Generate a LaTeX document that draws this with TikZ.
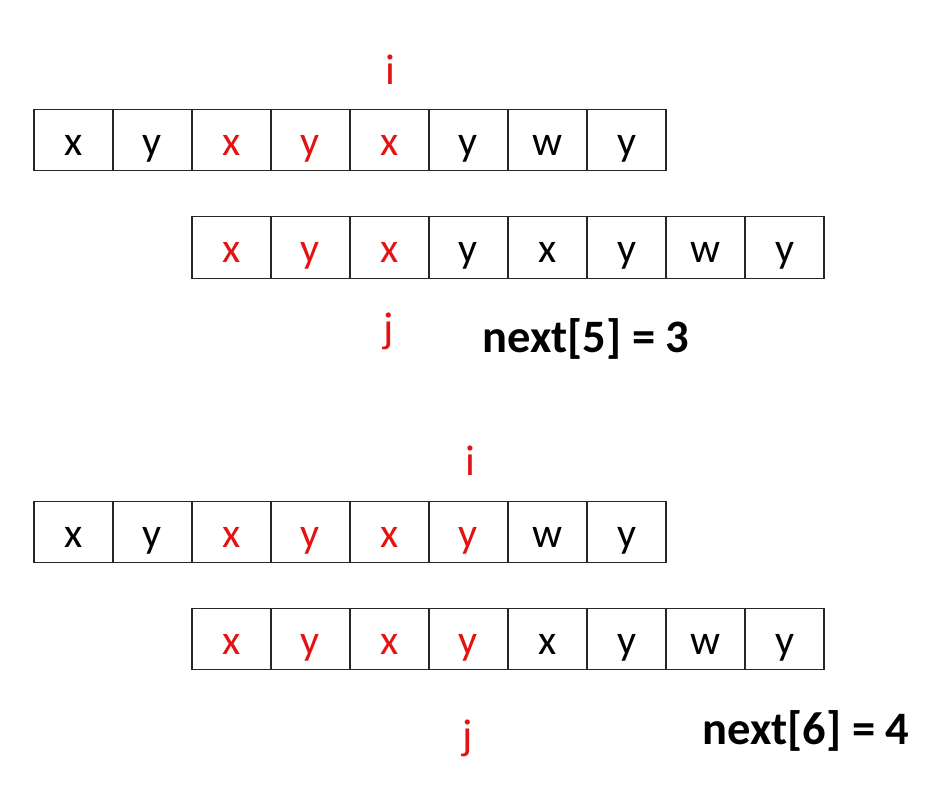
\documentclass[tikz,border=0pt]{standalone}
\usepackage{fontspec}
\setmainfont{Carlito}
\definecolor{hl}{RGB}{228,18,18}
\begin{document}
\begin{tikzpicture}[x=1pt,y=-1pt,
  cell/.style={draw=black!85,line width=1.2pt,minimum width=79pt,minimum height=61.5pt,
    inner sep=0pt,text height=30.5pt,text depth=0pt,font=\fontsize{42}{42}\selectfont},
  hot/.style={text=hl},
  ptr/.style={text=hl,anchor=base,inner sep=0pt,font=\fontsize{43}{43}\selectfont},
  res/.style={anchor=center,inner sep=0pt,font=\bfseries\fontsize{46.5}{46.5}\selectfont}]
\useasboundingbox (0,0) rectangle (940,786);
% top pair
\foreach \t [count=\k] in {x,y,x,y,x,y,w,y}{
  \pgfmathsetmacro{\cx}{34+79*(\k-0.5)}
  \ifnum\k>2 \ifnum\k<6 \node[cell,hot] (a\k) at (\cx,140) {\t};
  \else \node[cell] (a\k) at (\cx,140) {\t}; \fi
  \else \node[cell] (a\k) at (\cx,140) {\t}; \fi
}
\foreach \t [count=\k] in {x,y,x,y,x,y,w,y}{
  \pgfmathsetmacro{\cx}{192+79*(\k-0.5)}
  \ifnum\k<4 \node[cell,hot] (b\k) at (\cx,247.5) {\t};
  \else \node[cell] (b\k) at (\cx,247.5) {\t}; \fi
}
\node[ptr] (i1) at (390,85) {i};
\node[ptr] (j1) at (389,343) {j};
\node[res] (n1) at (586,339) {next[5] = 3};
% bottom pair
\foreach \t [count=\k] in {x,y,x,y,x,y,w,y}{
  \pgfmathsetmacro{\cx}{34+79*(\k-0.5)}
  \ifnum\k>2 \ifnum\k<7 \node[cell,hot] (c\k) at (\cx,532) {\t};
  \else \node[cell] (c\k) at (\cx,532) {\t}; \fi
  \else \node[cell] (c\k) at (\cx,532) {\t}; \fi
}
\foreach \t [count=\k] in {x,y,x,y,x,y,w,y}{
  \pgfmathsetmacro{\cx}{192+79*(\k-0.5)}
  \ifnum\k<5 \node[cell,hot] (d\k) at (\cx,639) {\t};
  \else \node[cell] (d\k) at (\cx,639) {\t}; \fi
}
\node[ptr] (i2) at (470,475) {i};
\node[ptr] (j2) at (468,749) {j};
\node[res] (n2) at (806,731) {next[6] = 4};
\end{tikzpicture}
\end{document}
